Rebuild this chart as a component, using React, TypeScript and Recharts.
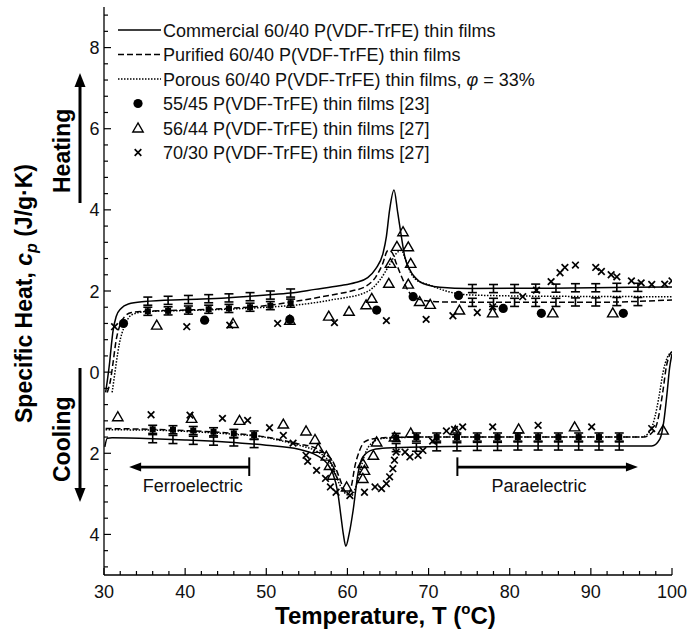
import React from 'react'
import {
  ComposedChart, Line, Scatter, XAxis, YAxis, ErrorBar, Legend,
  ReferenceLine, ReferenceDot,
} from 'recharts'

type Pair = [number, number]

const FONT = '"Liberation Sans", Arial, Helvetica, sans-serif'

// ---- DSC curves, heating branch (cp > 0) ----
const heatCommercial: Pair[] = [
  [30.2, -0.5], [30.45, -0.15], [30.7, 0.25], [30.9, 0.65], [31.1, 1.0], [31.5, 1.37],
  [32.1, 1.57], [33.0, 1.68], [35, 1.74], [40, 1.79], [45, 1.83], [50, 1.9], [53, 1.95],
  [56, 2.04], [59, 2.13], [61, 2.21], [62.5, 2.33], [63.5, 2.55], [64.4, 2.94], [64.8, 3.34],
  [65.2, 4.0], [65.74, 4.49], [66.2, 3.93], [66.65, 3.34], [67.06, 2.85], [67.7, 2.52],
  [68.9, 2.23], [70, 2.14], [71.4, 2.09], [75, 2.06], [85, 2.07], [95, 2.09], [100, 2.1],
]
const heatPurified: Pair[] = [
  [30.4, -0.5], [30.8, -0.2], [31.1, 0.21], [31.5, 0.79], [31.9, 1.12], [32.55, 1.37],
  [33.4, 1.47], [35, 1.5], [40, 1.53], [45, 1.57], [50, 1.64], [54, 1.76], [58, 1.9],
  [60.5, 2.0], [62.3, 2.12], [63.5, 2.35], [64.3, 2.65], [65.0, 3.0], [65.5, 2.95],
  [66.0, 2.69], [66.85, 2.27], [67.5, 2.0], [68.1, 1.86], [69.7, 1.76], [72, 1.73],
  [80, 1.72], [90, 1.72], [100, 1.78],
]
const heatPorous: Pair[] = [
  [31.0, -0.5], [31.25, -0.15], [31.5, 0.21], [31.9, 0.71], [32.5, 1.12], [33.4, 1.41],
  [35, 1.49], [40, 1.52], [45, 1.55], [50, 1.6], [54, 1.66], [58, 1.78], [62.3, 1.97],
  [64, 2.27], [65.3, 2.69], [66.0, 2.92], [66.65, 3.0], [67.2, 2.75], [67.8, 2.45],
  [68.5, 2.27], [70.1, 2.15], [72.5, 1.98], [75.4, 1.9], [85, 1.87], [100, 1.86],
]

// ---- cooling branch (plotted negative) ----
const coolCommercial: Pair[] = [
  [30.1, -1.84], [30.4, -1.63], [31, -1.62], [36, -1.64], [40, -1.67], [45, -1.72], [50, -1.8],
  [54, -1.9], [56.2, -2.05], [57.5, -2.25], [58.2, -2.5], [58.8, -2.95], [59.2, -3.55],
  [59.5, -4.0], [59.8, -4.29], [60.2, -4.0], [60.7, -3.41], [61.3, -2.5], [61.9, -2.09],
  [63.2, -1.91], [64.8, -1.87], [70, -1.84], [80, -1.82], [97.5, -1.82], [98.5, -1.65],
  [99.0, -1.2], [99.4, -0.5], [99.7, 0.1], [100, 0.45],
]
const coolPurified: Pair[] = [
  [30.2, -1.39], [36, -1.41], [40, -1.44], [45.9, -1.51], [50, -1.6], [52, -1.68], [54, -1.77],
  [56.2, -1.88], [57.3, -2.02], [58.2, -2.2], [59, -2.6], [59.6, -2.9], [60.1, -3.0],
  [60.5, -2.8], [60.9, -2.34], [61.5, -1.93], [62.1, -1.72], [63.2, -1.64], [65.2, -1.61],
  [70, -1.6], [96.5, -1.6], [97.5, -1.5], [98.1, -1.3], [98.5, -0.94], [98.9, -0.44],
  [99.3, 0.13], [99.7, 0.42], [100, 0.5],
]
const coolPorous: Pair[] = [
  [30.2, -1.42], [36, -1.43], [40, -1.46], [45.9, -1.53], [50, -1.61], [52, -1.7], [54, -1.8],
  [56.2, -1.95], [57.3, -2.1], [58.2, -2.35], [59, -2.75], [59.8, -3.0], [60.5, -3.05],
  [61, -2.85], [61.6, -2.4], [62.2, -2.0], [63, -1.75], [64.5, -1.63], [70, -1.6],
  [96.3, -1.6], [97.3, -1.45], [97.9, -1.1], [98.4, -0.6], [98.9, 0.0], [99.4, 0.35], [100, 0.5],
]

// ---- error bars on the film curves ----
const barHalf = 0.1
const heatBarsCommercial: Pair[] = [
  [35.4, 1.75], [37.9, 1.77], [40.4, 1.79], [42.9, 1.81], [45.4, 1.83], [48, 1.86], [50.5, 1.9],
  [53, 1.95], [75.4, 2.06], [78, 2.06], [80.6, 2.06], [83.2, 2.07], [85.7, 2.07], [88.1, 2.08],
  [90.6, 2.08], [93.2, 2.09], [95.8, 2.09],
]
const heatBarsPurifiedLeft: Pair[] = [
  [35.4, 1.5], [37.9, 1.51], [40.4, 1.53], [42.9, 1.55], [45.4, 1.57], [48, 1.6], [50.5, 1.64],
  [53, 1.7],
]
const heatBarsPurifiedRight: Pair[] = [
  [75.4, 1.72], [78, 1.72], [80.6, 1.72], [83.2, 1.72], [85.7, 1.72], [88.1, 1.73],
  [90.6, 1.73], [93.2, 1.74], [95.8, 1.74],
]
const coolBarsCommercial: Pair[] = [
  [36, -1.64], [38.5, -1.66], [41, -1.68], [43.5, -1.7], [46, -1.72], [48.5, -1.76],
  [66, -1.86], [68.5, -1.85], [71, -1.84], [73.5, -1.84], [76, -1.83], [78.5, -1.83],
  [81, -1.82], [83.5, -1.82], [86, -1.82], [88.5, -1.82], [91, -1.82], [93.5, -1.82],
]
const coolBarsPurified: Pair[] = [
  [36, -1.41], [38.5, -1.42], [41, -1.44], [43.5, -1.47], [46, -1.51], [48.5, -1.55],
  [66, -1.61], [68.5, -1.6], [71, -1.6], [73.5, -1.6], [76, -1.6], [78.5, -1.6],
  [81, -1.6], [83.5, -1.6], [86, -1.6], [88.5, -1.6], [91, -1.6], [93.5, -1.6],
]

// ---- literature points ----
const heatCircles: Pair[] = [
  [32.4, 1.2], [42.4, 1.28], [52.9, 1.3], [63.6, 1.53], [68.1, 1.86], [73.7, 1.89],
  [79.2, 1.57], [83.9, 1.45], [94.0, 1.45],
]
const heatTriangles: Pair[] = [
  [36.5, 1.16], [45.9, 1.2], [52.9, 1.28], [57.7, 1.38], [60.2, 1.5], [62.3, 1.66], [63, 1.82],
  [65.1, 2.19], [65.3, 2.68], [66.1, 3.1], [66.85, 3.46], [67.5, 3.09], [67.8, 2.68],
  [67.5, 2.17], [68.9, 1.74], [70.2, 1.67], [73.8, 1.53], [77.9, 1.46], [85.3, 1.46], [92.7, 1.46],
]
const heatCrosses: Pair[] = [
  [31.3, 1.12], [40.2, 1.12], [45.5, 1.16], [51.4, 1.2], [58.4, 1.22], [64.8, 1.27], [69.7, 1.3],
  [73, 1.39], [76, 1.47], [77.9, 1.61], [81.6, 1.86], [83.3, 2.02], [85.1, 2.23], [86.2, 2.45],
  [86.8, 2.58], [88.1, 2.64], [90.6, 2.58], [91.3, 2.48], [92.5, 2.4], [93.2, 2.35], [95, 2.25],
  [96.2, 2.2], [97.5, 2.16], [99.1, 2.17], [100, 2.25],
]
const coolTriangles: Pair[] = [
  [31.7, -1.1], [40.8, -1.14], [46.7, -1.19], [52.1, -1.28], [54.9, -1.45], [56, -1.66],
  [56.4, -1.88], [57.4, -2.07], [57.8, -2.3], [58.2, -2.54], [59.9, -2.83], [61.9, -2.62],
  [62.1, -2.42], [61.9, -2.25], [63.2, -2.05], [63.6, -1.72], [65.8, -1.6], [67.8, -1.5],
  [73.3, -1.44], [81.1, -1.4], [88, -1.35], [98.9, -1.43],
]
const coolCrosses: Pair[] = [
  [35.8, -1.05], [40.6, -1.06], [44.6, -1.14], [47.7, -1.19], [50.4, -1.37], [52.1, -1.56],
  [53.3, -1.75], [54.9, -2.05], [55.1, -2.2], [56.2, -2.42], [57.3, -2.62], [57.9, -2.83],
  [58.6, -2.96], [60.3, -3.04], [62.1, -2.96], [63.4, -2.83], [64.2, -2.87], [64.8, -2.75],
  [65.2, -2.58], [65.6, -2.38], [65.8, -2.17], [66, -1.97], [67.1, -1.97], [67.7, -2.09],
  [68.7, -2.05], [69.3, -1.93], [70.5, -1.7], [72.2, -1.45], [73.2, -1.41], [74.2, -1.35],
  [77.9, -1.35], [83.5, -1.31], [90.1, -1.35], [97.5, -1.39],
]

const legendLabels = [
  'Commercial 60/40 P(VDF-TrFE) thin films',
  'Purified 60/40 P(VDF-TrFE) thin films',
  'Porous 60/40 P(VDF-TrFE) thin films, ',
  '55/45 P(VDF-TrFE) thin films [23]',
  '56/44 P(VDF-TrFE) thin films [27]',
  '70/30 P(VDF-TrFE) thin films [27]',
]

const xTicks = Array.from({ length: 36 }, (_, i) => 30 + 2 * i)
const yTicks = Array.from({ length: 35 }, (_, i) => Math.round((i - 12) * 4) / 10)

const toXY = (d: Pair[]) => d.map(([x, y]) => ({ x, y }))
const toBar = (d: Pair[]) => d.map(([x, y]) => ({ x, y, e: barHalf }))

const isMajorY = (v: number) => Math.abs(v % 2) < 1e-6

const BottomTick = (p: any) => {
  const v = p.payload.value
  const major = v % 10 === 0
  return (
    <g>
      <line x1={p.x} x2={p.x} y1={p.y} y2={p.y - (major ? 7 : 4)} stroke="#000" strokeWidth={1.2} />
      {major && (
        <text x={p.x} y={p.y + 23} textAnchor="middle" fontSize={18} fontFamily={FONT} fill="#111">{v}</text>
      )}
    </g>
  )
}
const TopTick = (p: any) => {
  const major = p.payload.value % 10 === 0
  return <line x1={p.x} x2={p.x} y1={p.y} y2={p.y + (major ? 7 : 4)} stroke="#000" strokeWidth={1.2} />
}
const LeftTick = (p: any) => {
  const v = p.payload.value
  const major = isMajorY(v)
  return (
    <g>
      <line x1={p.x} x2={p.x + (major ? 7 : 4)} y1={p.y} y2={p.y} stroke="#000" strokeWidth={1.2} />
      {major && (
        <text x={p.x - 4.5} y={p.y + 6.5} textAnchor="end" fontSize={18} fontFamily={FONT} fill="#111">{Math.abs(v)}</text>
      )}
    </g>
  )
}
const RightTick = (p: any) => {
  const major = isMajorY(p.payload.value)
  return <line x1={p.x} x2={p.x - (major ? 7 : 4)} y1={p.y} y2={p.y} stroke="#000" strokeWidth={1.2} />
}

const Circle = ({ cx, cy }: any) => <circle cx={cx} cy={cy} r={4.6} fill="#000" />
const Tri = ({ cx, cy }: any) => (
  <polygon points={`${cx},${cy - 5} ${cx - 5.2},${cy + 4} ${cx + 5.2},${cy + 4}`} fill="none" stroke="#000" strokeWidth={1.4} />
)
const Cross = ({ cx, cy }: any) => (
  <g stroke="#000" strokeWidth={1.7}>
    <line x1={cx - 3.3} y1={cy - 3.3} x2={cx + 3.3} y2={cy + 3.3} />
    <line x1={cx - 3.3} y1={cy + 3.3} x2={cx + 3.3} y2={cy - 3.3} />
  </g>
)
const Square = ({ cx, cy }: any) => <rect x={cx - 3} y={cy - 3} width={6} height={6} fill="#000" />
const NoMark = () => <g />

const legendY = [30, 54.5, 79, 103.5, 128, 152.5]

const LegendBox = () => (
  <svg width={560} height={170} style={{ display: 'block' }} fontFamily={FONT}>
    <line x1={118} x2={161} y1={legendY[0]} y2={legendY[0]} stroke="#000" strokeWidth={1.5} />
    <line x1={118} x2={161} y1={legendY[1]} y2={legendY[1]} stroke="#000" strokeWidth={1.5} strokeDasharray="6 3" />
    <line x1={118} x2={161} y1={legendY[2]} y2={legendY[2]} stroke="#000" strokeWidth={1.5} strokeDasharray="1.5 1.5" />
    <Circle cx={138} cy={legendY[3]} />
    <Tri cx={138} cy={legendY[4]} />
    <Cross cx={138} cy={legendY[5]} />
    {legendLabels.map((s, i) => (
      <text key={i} x={163} y={legendY[i] + 6.5} fontSize={18} fill="#111">
        {s}
        {i === 2 && (
          <>
            <tspan fontStyle="italic">φ</tspan>
            <tspan> = 33%</tspan>
          </>
        )}
      </text>
    ))}
  </svg>
)

const FerroHead = ({ cx, cy }: any) => (
  <polygon points={`${cx},${cy} ${cx + 12},${cy - 4.5} ${cx + 12},${cy + 4.5}`} fill="#000" />
)
const ParaHead = ({ cx, cy }: any) => (
  <polygon points={`${cx},${cy} ${cx - 12},${cy - 4.5} ${cx - 12},${cy + 4.5}`} fill="#000" />
)
const label = (txt: string) => ({ cx, cy }: any) => (
  <text x={cx} y={cy} dy="0.35em" textAnchor="middle" fontSize={18} fontFamily={FONT} fill="#111">{txt}</text>
)

const App = () => {
  const lineProps = { dataKey: 'y', type: 'monotone' as const, stroke: '#000', strokeWidth: 1.5, dot: false, isAnimationActive: false }
  const barProps = { dataKey: 'e', direction: 'y' as const, width: 4.5, stroke: '#000', strokeWidth: 1.6 }
  return (
    <div style={{ position: 'absolute', left: 0, top: 0, width: 689, height: 638, background: '#fff' }}>
      <ComposedChart width={689} height={638} margin={{ top: 7, right: 17, bottom: 33, left: 64 }}>
        <XAxis dataKey="x" type="number" domain={[30, 100]} allowDataOverflow ticks={xTicks} interval={0}
          height={30} tickSize={0} tickMargin={0} tick={BottomTick} tickLine={false}
          axisLine={{ stroke: '#000', strokeWidth: 1.3 }} />
        <XAxis xAxisId="top" orientation="top" type="number" domain={[30, 100]} allowDataOverflow ticks={xTicks}
          interval={0} height={0} tickSize={0} tickMargin={0} tick={TopTick} tickLine={false}
          axisLine={{ stroke: '#000', strokeWidth: 1.3 }} />
        <YAxis dataKey="y" type="number" domain={[-5, 9]} allowDataOverflow ticks={yTicks} interval={0}
          width={40} tickSize={0} tickMargin={0} tick={LeftTick} tickLine={false}
          axisLine={{ stroke: '#000', strokeWidth: 1.3 }} />
        <YAxis yAxisId="right" orientation="right" type="number" domain={[-5, 9]} allowDataOverflow ticks={yTicks}
          interval={0} width={0} tickSize={0} tickMargin={0} tick={RightTick} tickLine={false}
          axisLine={{ stroke: '#000', strokeWidth: 1.3 }} />

        <Line data={toXY(heatCommercial)} {...lineProps} />
        <Line data={toXY(heatPurified)} {...lineProps} strokeDasharray="6 3" />
        <Line data={toXY(heatPorous)} {...lineProps} strokeDasharray="1.5 1.5" />
        <Line data={toXY(coolCommercial)} {...lineProps} />
        <Line data={toXY(coolPurified)} {...lineProps} strokeDasharray="6 3" />
        <Line data={toXY(coolPorous)} {...lineProps} strokeDasharray="1.5 1.5" />

        <Scatter data={toBar(heatBarsCommercial)} dataKey="y" shape={NoMark} isAnimationActive={false}>
          <ErrorBar {...barProps} />
        </Scatter>
        <Scatter data={toBar(heatBarsPurifiedLeft)} dataKey="y" shape={Square} isAnimationActive={false}>
          <ErrorBar {...barProps} />
        </Scatter>
        <Scatter data={toBar(heatBarsPurifiedRight)} dataKey="y" shape={NoMark} isAnimationActive={false}>
          <ErrorBar {...barProps} />
        </Scatter>
        <Scatter data={toBar(coolBarsCommercial)} dataKey="y" shape={NoMark} isAnimationActive={false}>
          <ErrorBar {...barProps} />
        </Scatter>
        <Scatter data={toBar(coolBarsPurified)} dataKey="y" shape={Square} isAnimationActive={false}>
          <ErrorBar {...barProps} />
        </Scatter>

        <Scatter data={toXY(heatCircles)} dataKey="y" shape={Circle} isAnimationActive={false} />
        <Scatter data={toXY(heatTriangles)} dataKey="y" shape={Tri} isAnimationActive={false} />
        <Scatter data={toXY(heatCrosses)} dataKey="y" shape={Cross} isAnimationActive={false} />
        <Scatter data={toXY(coolTriangles)} dataKey="y" shape={Tri} isAnimationActive={false} />
        <Scatter data={toXY(coolCrosses)} dataKey="y" shape={Cross} isAnimationActive={false} />

        <ReferenceLine segment={[{ x: 34, y: -2.34 }, { x: 47.9, y: -2.34 }]} stroke="#000" strokeWidth={2.6} />
        <ReferenceLine segment={[{ x: 47.9, y: -2.1 }, { x: 47.9, y: -2.56 }]} stroke="#000" strokeWidth={2} />
        <ReferenceDot x={33.1} y={-2.34} shape={FerroHead} />
        <ReferenceDot x={40.95} y={-2.79} shape={label('Ferroelectric')} />
        <ReferenceLine segment={[{ x: 73.55, y: -2.34 }, { x: 94.9, y: -2.34 }]} stroke="#000" strokeWidth={2.6} />
        <ReferenceLine segment={[{ x: 73.55, y: -2.1 }, { x: 73.55, y: -2.56 }]} stroke="#000" strokeWidth={2} />
        <ReferenceDot x={95.8} y={-2.34} shape={ParaHead} />
        <ReferenceDot x={83.6} y={-2.79} shape={label('Paraelectric')} />

        <Legend layout="vertical" align="center" verticalAlign="middle"
          wrapperStyle={{ left: 0, top: 0, width: 560, height: 170 }} content={LegendBox} />
      </ComposedChart>

      <svg width={689} height={638} style={{ position: 'absolute', left: 0, top: 0, pointerEvents: 'none' }} fontFamily={FONT}>
        <text transform="translate(32,423) rotate(-90)" fontSize={23} fontWeight="bold" fill="#000">
          Specific Heat, <tspan fontStyle="italic">c</tspan>
          <tspan fontStyle="italic" fontSize={16} dy={5}>p</tspan>
          <tspan dy={-5}> (J/g·K)</tspan>
        </text>
        <text transform="translate(70,193) rotate(-90)" fontSize={23} fontWeight="bold" fill="#000">Heating</text>
        <line x1={80} y1={203} x2={80} y2={84} stroke="#000" strokeWidth={3} />
        <polygon points="80,73 74.5,87 85.5,87" fill="#000" />
        <text transform="translate(70,482) rotate(-90)" fontSize={23} fontWeight="bold" fill="#000">Cooling</text>
        <line x1={80} y1={368} x2={80} y2={491} stroke="#000" strokeWidth={3} />
        <polygon points="80,502 74.5,488 85.5,488" fill="#000" />
        <text x={275} y={624} fontSize={24} fontWeight="bold" fill="#000">
          Temperature, T (<tspan fontSize={15} dy={-10}>o</tspan><tspan dy={10}>C)</tspan>
        </text>
      </svg>
    </div>
  )
}

export default App
